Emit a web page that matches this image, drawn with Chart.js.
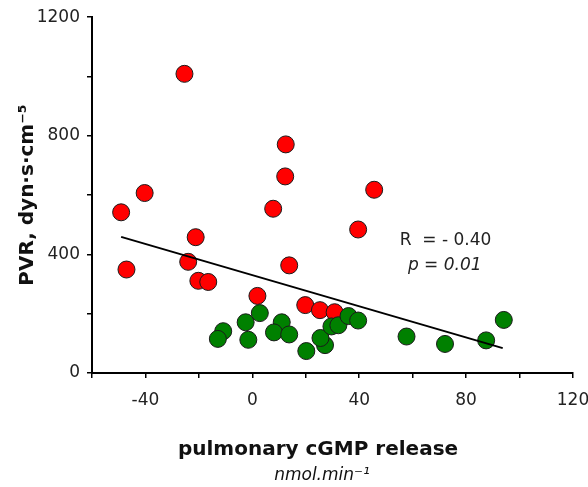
<!DOCTYPE html>
<html>
<head>
<meta charset="utf-8">
<script src="https://cdn.jsdelivr.net/npm/chart.js@4/dist/chart.umd.min.js"></script>
<style>
  body { margin: 0; background: #fff; }
  #wrap { width: 588px; height: 487px; }
</style>
</head>
<body>
<div id="wrap"><canvas id="pvrChart" width="588" height="487"></canvas></div>
<script>
// red group
const redX = [-25.4, 12.5, 12.3, -40.3, -49.1, 7.8, 45.6, 39.6, -21.2, -24, -47.1, -20.2, -16.5, 13.8, 1.9, 19.8, 25.3, 30.8];
const redY = [1009, 771, 663, 607, 542, 554, 618, 484, 458, 375, 349, 311, 307, 363, 260, 229, 212, 205];
// green group
const greenX = [-10.9, -12.9, -2.5, -1.5, 2.8, 11, 8.1, 13.8, 20.2, 27.2, 25.5, 29.6, 32.2, 36, 39.6, 57.7, 72.1, 87.5, 94.1];
const greenY = [141, 115, 171, 112, 202, 171, 137, 130, 74, 94, 118, 157, 161, 192, 177, 123, 98, 110, 179];
// regression line end points
const fitX = [-49.1, 93.7];
const fitY = [459, 84];

const xTicks = [-40, 0, 40, 80, 120];
const yTicks = [0, 400, 800, 1200];

const xTitle = 'pulmonary cGMP release';
const xUnit = 'nmol.min\u207B\u00B9';
const yTitle = 'PVR, dyn\u00B7s\u00B7cm\u207B\u2075';
const noteR = 'R  = - 0.40';
const noteP = 'p = 0.01';

function pts(xs, ys) { return xs.map((x, i) => ({ x: x, y: ys[i] })); }

const textPlugin = {
  id: 'texts',
  afterDraw(chart) {
    const ctx = chart.ctx;
    const sx = chart.scales.x, sy = chart.scales.y;
    ctx.save();
    ctx.fillStyle = '#111';
    ctx.textAlign = 'center';
    ctx.textBaseline = 'middle';
    ctx.font = 'bold 20px "DejaVu Sans"';
    ctx.fillText(xTitle, 318, 450);
    ctx.font = 'oblique 17px "DejaVu Sans"';
    ctx.fillText(xUnit, 322, 476);
    // correlation note
    ctx.fillStyle = '#222';
    ctx.font = '17px "DejaVu Sans"';
    ctx.fillText(noteR, sx.getPixelForValue(72.3), sy.getPixelForValue(445));
    ctx.font = 'oblique 17px "DejaVu Sans"';
    ctx.fillText(noteP, sx.getPixelForValue(72), sy.getPixelForValue(361));
    ctx.restore();
  }
};

new Chart(document.getElementById('pvrChart'), {
  type: 'scatter',
  data: {
    datasets: [
      { type: 'line', data: pts(fitX, fitY), borderColor: '#000', borderWidth: 2, pointRadius: 0, fill: false, order: 0 },
      { data: pts(greenX, greenY), backgroundColor: '#008000', borderColor: '#1a1a1a', borderWidth: 1, pointRadius: 8.5, order: 1 },
      { data: pts(redX, redY), backgroundColor: '#ff0000', borderColor: '#1a1a1a', borderWidth: 1, pointRadius: 8.5, order: 2 }
    ]
  },
  options: {
    responsive: false,
    animation: false,
    layout: { autoPadding: false, padding: { left: 0, right: 15, top: 15, bottom: 0 } },
    plugins: { legend: { display: false }, tooltip: { enabled: false } },
    scales: {
      x: {
        type: 'linear', min: -60, max: 120,
        // fixed height, and don't let the last label push the axis in
        afterFit: s => { s.height = 114; s.paddingLeft = 0; s.paddingRight = 0; },
        border: { display: true, color: '#000', width: 2 },
        grid: { drawOnChartArea: false, drawTicks: true, tickLength: 5, color: '#000', lineWidth: 1.5 },
        ticks: {
          stepSize: 20, maxRotation: 0, autoSkip: false, padding: 12, color: '#222',
          font: { family: 'DejaVu Sans', size: 17 },
          callback: v => xTicks.includes(v) ? String(v) : ''
        }
      },
      y: {
        type: 'linear', min: 0, max: 1200,
        afterFit: s => { s.width = 92; },
        border: { display: true, color: '#000', width: 2 },
        grid: { drawOnChartArea: false, drawTicks: true, tickLength: 5, color: '#000', lineWidth: 1.5 },
        ticks: {
          stepSize: 200, autoSkip: false, padding: 7, color: '#222',
          font: { family: 'DejaVu Sans', size: 17 },
          callback: v => yTicks.includes(v) ? String(v) : ''
        },
        title: {
          display: true, text: yTitle, color: '#111',
          font: { family: 'DejaVu Sans', size: 20, weight: 'bold' },
          padding: { top: 16, bottom: 0 }
        }
      }
    }
  },
  plugins: [textPlugin]
});
</script>
</body>
</html>
